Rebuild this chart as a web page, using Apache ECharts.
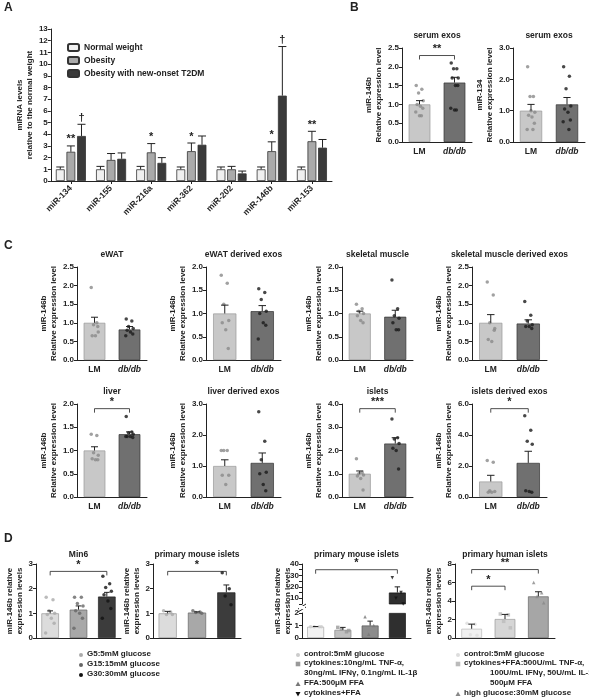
<!DOCTYPE html>
<html><head><meta charset="utf-8">
<script src="https://cdn.jsdelivr.net/npm/echarts@6/dist/echarts.min.js"></script>
<style>html,body{margin:0;background:#fff}#c{width:589px;height:700px}</style>
</head><body><div id="c"></div>
<script>
// ---- Panel A
var aCats = ['miR-134','miR-155','miR-216a','miR-362','miR-202','miR-146b','miR-153'];
var aNormal = [1,1,1,1,1,1,1];
var aNormalErr = [1.2,1.25,1.25,1.2,1.2,1.2,1.2];
var aObese = [2.5,1.8,2.45,2.55,1,2.55,3.4];
var aObeseErr = [3.0,2.35,3.2,3.25,1.25,3.35,4.25];
var aT2dm = [3.85,1.9,1.55,3.1,0.65,7.3,2.85];
var aT2dmErr = [4.85,2.4,2.0,3.85,0.85,11.5,3.55];
var aMarks = [[0,1,'**'],[0,2,'†'],[2,1,'*'],[3,1,'*'],[5,1,'*'],[5,2,'†'],[6,1,'**']];
// ---- Panel B
var bCats = ['LM','db/db'];
var b146Mean = [1.0,1.58], b146Err = [1.1,1.72];
var b146Pts = [[1.5,1.4,1.3,1.1,1.0,0.95,0.9,0.8,0.7,0.7],[2.1,1.95,1.95,1.7,1.7,1.5,1.5,0.9,0.85,0.85]];
var b134Mean = [1.0,1.2], b134Err = [1.2,1.42];
var b134Pts = [[2.4,1.45,1.45,0.95,0.85,0.8,0.6,0.4,0.4,1.0],[2.4,2.1,1.7,1.15,1.05,0.95,0.7,0.65,0.4]];
// ---- Panel C
var cEwatMean=[1.0,0.82], cEwatErr=[1.15,0.9], cEwatPts=[[1.95,1.0,0.95,0.75,0.65,0.65,0.9],[1.1,1.05,0.9,0.85,0.8,0.75,0.7,0.65]];
var cEwatExMean=[1.0,1.05], cEwatExErr=[1.18,1.17], cEwatExPts=[[1.82,1.65,1.2,0.85,0.8,0.65,0.25],[1.53,1.45,1.3,1.05,1.0,0.8,0.75,0.45]];
var cSkmMean=[1.0,0.93], cSkmErr=[1.05,1.07], cSkmPts=[[1.2,1.1,1.05,1.0,0.95,0.85,0.8],[1.72,1.1,0.95,0.9,0.8,0.65,0.65]];
var cSkmExMean=[1.0,0.98], cSkmExErr=[1.22,1.08], cSkmExPts=[[2.1,1.75,1.0,0.85,0.55,0.5,0.8],[1.57,1.2,1.05,0.95,0.9,0.9,0.85]];
var cLivMean=[1.0,1.35], cLivErr=[1.08,1.4], cLivPts=[[1.35,1.32,0.95,0.9,0.82,0.8,0.8],[1.73,1.4,1.38,1.35,1.3,1.3,1.28,1.3]];
var cLivExMean=[1.0,1.1], cLivExErr=[1.2,1.42], cLivExPts=[[1.5,1.5,1.5,0.7,0.7,0.4],[2.75,1.8,1.2,0.8,0.75,0.4,0.2]];
var cIslMean=[1.0,2.3], cIslErr=[1.12,2.55], cIslPts=[[1.65,1.05,1.0,0.95,0.9,0.8,0.3],[3.35,2.55,2.5,2.3,2.1,2.0,1.2]];
var cIslExMean=[1.0,2.2], cIslExErr=[1.4,2.95], cIslExPts=[[2.35,2.25,0.4,0.35,0.3,0.3],[5.25,4.3,3.6,3.4,0.4,0.35,0.3]];
// ---- Panel D
var dCats3 = ['G5','G15','G30'];
var dMinMean=[1.0,1.15,1.68], dMinErr=[1.1,1.3,1.85];
var dMinPts=[[1.65,1.55,1.1,1.0,0.95,0.8,0.6,0.2],[1.65,1.65,1.4,1.3,1.1,1.0,0.8,0.4],[2.5,2.2,2.05,1.9,1.75,1.5,1.2,0.8]];
var dPmiMean=[1.0,1.03,1.85], dPmiErr=[1.08,1.06,2.15];
var dPmiPts=[[1.1,1.05,0.95,0.95],[1.1,1.05,1.03,1.0],[2.65,2.0,1.7,1.35]];
var dBrkCats=['control','cytokines','FFA','cytokines+FFA'];
var dBrkMean=[0.9,0.65,1.0,15], dBrkErr=[0.92,0.85,1.35,20];
var dBrkPts=[[0.9,0.9,0.9,0.9],[0.85,0.5,0.7,0.6],[1.7,1.0,0.3],[28,15,10,5]];
var dHumCats=['control','cytokines+FFA','high glucose'];
var dHumMean=[1.0,2.05,4.5], dHumErr=[1.5,2.55,5.0];
var dHumPts=[[1.6,1.5,0.35,0.3],[2.6,2.5,1.8,1.1],[6.0,4.9,4.5,3.8]];

var FONT = 'Liberation Sans';
var grids=[], xAxes=[], yAxes=[], series=[], graphics=[];
var jit = [-7,5,-2,8,-5,2,7,-8,4,0];

function txt(x,y,t,size,align){
  graphics.push({type:'text',x:x,y:y,style:{text:t,textAlign:align||'center',font:'bold '+(size||8)+'px '+FONT,fill:'#222'}});
}
function errSeries(g, means, tops, off, color){
  series.push({type:'custom',xAxisIndex:g,yAxisIndex:g,z:5,silent:true,
    data:means.map(function(m,i){return [i,m,tops[i]];}).filter(function(d){return d[1]!=null && d[2]!=null;}),
    renderItem:function(p,api){
      var band=api.size([1,0])[0], dx=band*(off||0);
      var a=api.coord([api.value(0),api.value(1)]), b=api.coord([api.value(0),api.value(2)]);
      var x=a[0]+dx, cap=Math.max(2.5,band*0.1);
      var st={stroke:color||'#222',lineWidth:1};
      return {type:'group',children:[
        {type:'line',shape:{x1:x,y1:a[1],x2:x,y2:b[1]},style:st},
        {type:'line',shape:{x1:x-cap,y1:b[1],x2:x+cap,y2:b[1]},style:st}]};
    }});
}
function bracket(g, x1, x2, y, label){
  series.push({type:'custom',xAxisIndex:g,yAxisIndex:g,z:6,silent:true,data:[[x1,x2,y]],
    renderItem:function(p,api){
      var a=api.coord([api.value(0),api.value(2)]), b=api.coord([api.value(1),api.value(2)]);
      var st={stroke:'#222',lineWidth:0.8,fill:null};
      return {type:'group',children:[
        {type:'polyline',shape:{points:[[a[0],a[1]+4],[a[0],a[1]],[b[0],b[1]],[b[0],b[1]+4]]},style:st},
        {type:'text',x:(a[0]+b[0])/2,y:a[1]-1,style:{text:label,textAlign:'center',textVerticalAlign:'bottom',font:'bold 11px '+FONT,fill:'#222'}}]};
    }});
}
function small(o){
  var g=grids.length;
  grids.push({left:o.left,top:o.top,width:o.width,height:o.height});
  xAxes.push({gridIndex:g,type:'category',data:o.cats,show:o.showX!==false,
    axisLine:{lineStyle:{color:'#222'}},axisTick:{show:false},
    axisLabel:{show:o.xLabels!==false,interval:0,margin:5,fontFamily:FONT,fontWeight:'bold',fontSize:8.5,color:'#222',
      fontStyle:'normal'}});
  yAxes.push({gridIndex:g,type:'value',min:o.min||0,max:o.max,interval:o.interval,
    name:o.name,nameLocation:'middle',nameGap:o.nameGap||18,
    nameTextStyle:{fontFamily:FONT,fontWeight:'bold',fontSize:8,color:'#222',lineHeight:10},
    splitLine:{show:false},axisLine:{show:true,lineStyle:{color:'#222'}},axisTick:{show:true,length:3},
    axisLabel:{margin:3,fontFamily:FONT,fontWeight:'bold',fontSize:8,color:'#222',
      formatter:o.fmt||function(v){return v.toFixed(o.dec==null?1:o.dec);}}});
  series.push({type:'bar',xAxisIndex:g,yAxisIndex:g,barWidth:o.barWidth||'62%',silent:true,
    data:o.means.map(function(v,i){return v==null?null:{value:v,itemStyle:{color:o.colors[i],borderColor:o.borders?o.borders[i]:'#444',borderWidth:0.7}};})});
  o.pts.forEach(function(arr,i){
    series.push({type:'scatter',xAxisIndex:g,yAxisIndex:g,z:4,silent:true,
      symbol:o.symbols?o.symbols[i]:'circle',symbolSize:o.symSize||3.5,
      itemStyle:{color:o.ptColors[i]},
      data:arr.map(function(y,k){return {value:[i,y],symbolOffset:[jit[k%jit.length]*o.width/150,0]};})});
  });
  errSeries(g,o.means,o.errs,0);
  (o.brackets||[]).forEach(function(b){bracket(g,b[0],b[1],b[2],b[3]);});
  if(o.title) txt(o.left+o.width/2,o.top-(o.titleGap||17),o.title,8.5);
  // italic db/db label as overlay, LM via axis
  if(o.cats===bCats){
    xAxes[g].axisLabel.formatter=function(v){return v==='db/db'?'':v;};
    series.push({type:'custom',xAxisIndex:g,yAxisIndex:g,silent:true,z:7,data:[[1,0]],
      renderItem:function(p,api){var c=api.coord([1,0]);
        return {type:'text',x:c[0],y:c[1]+5,style:{text:'db/db',textAlign:'center',font:'italic bold 8.5px '+FONT,fill:'#222'}};}});
  }
  return g;
}

// ---- A
(function(){
  var g=grids.length;
  grids.push({left:35,top:29,width:297,height:152});
  xAxes.push({gridIndex:g,type:'category',data:aCats,axisLine:{lineStyle:{color:'#222'}},
    axisTick:{show:true,alignWithLabel:true,length:3},
    axisLabel:{rotate:45,interval:0,margin:6,fontFamily:FONT,fontWeight:'bold',fontSize:8.5,color:'#222'}});
  yAxes.push({gridIndex:g,type:'value',min:0,max:13,interval:1,name:'miRNA levels\nrelative to the normal weight',
    nameLocation:'middle',nameGap:14,nameTextStyle:{fontFamily:FONT,fontWeight:'bold',fontSize:8,color:'#222',lineHeight:10},
    splitLine:{show:false},axisLine:{show:true,lineStyle:{color:'#222'}},axisTick:{show:true,length:3},
    axisLabel:{margin:3,fontFamily:FONT,fontWeight:'bold',fontSize:8,color:'#222'}});
  var groups=[['Normal weight',aNormal,aNormalErr,'#f0f0f0'],['Obesity',aObese,aObeseErr,'#aaaaaa'],['Obesity with new-onset T2DM',aT2dm,aT2dmErr,'#3a3a3a']];
  groups.forEach(function(gr,k){
    series.push({type:'bar',name:gr[0],xAxisIndex:g,yAxisIndex:g,data:gr[1],barWidth:'22%',barGap:'20%',silent:true,
      itemStyle:{color:gr[3],borderColor:'#333',borderWidth:0.8}});
  });
  groups.forEach(function(gr,k){errSeries(g,gr[1],gr[2],(k-1)*0.264);});
  var tops=[aNormalErr,aObeseErr,aT2dmErr];
  series.push({type:'custom',xAxisIndex:g,yAxisIndex:g,z:6,silent:true,
    data:aMarks.map(function(m){return [m[0],tops[m[1]][m[0]],m[1]-1];}),
    renderItem:function(p,api){
      var band=api.size([1,0])[0], c=api.coord([api.value(0),api.value(1)]);
      return {type:'text',x:c[0]+api.value(2)*0.264*band,y:c[1]-1,style:{text:aMarks[p.dataIndex][2],textAlign:'center',textVerticalAlign:'bottom',font:'bold 11px '+FONT,fill:'#222'}};
    }});
})();

var LMc=['#c8c8c8','#707070'], LMb=['#999','#333'], LMp=['#8a8a8a','#1a1a1a'];
// ---- B
small({left:402,top:48,width:70,height:94,title:'serum exos',cats:bCats,max:2.5,interval:0.5,name:'miR-146b\nRelative expression level',
  means:b146Mean,errs:b146Err,pts:b146Pts,colors:LMc,borders:LMb,ptColors:LMp,brackets:[[0,1,2.3,'**']]});
small({left:513,top:48,width:72,height:94,title:'serum exos',cats:bCats,max:3,interval:1,name:'miR-134\nRelative expression level',
  means:b134Mean,errs:b134Err,pts:b134Pts,colors:LMc,borders:LMb,ptColors:LMp});
// ---- C
var cRow=[[cEwatMean,cEwatErr,cEwatPts,'eWAT',2.5,0.5,77,70,null],
  [cEwatExMean,cEwatExErr,cEwatExPts,'eWAT derived exos',2,0.5,206,75,null],
  [cSkmMean,cSkmErr,cSkmPts,'skeletal muscle',2,0.5,342,71,null],
  [cSkmExMean,cSkmExErr,cSkmExPts,'skeletal muscle derived exos',2.5,0.5,472,75,null],
  [cLivMean,cLivErr,cLivPts,'liver',2,0.5,77,70,[0,1,1.9,'*']],
  [cLivExMean,cLivExErr,cLivExPts,'liver derived exos',3,1,206,75,null],
  [cIslMean,cIslErr,cIslPts,'islets',4,1,342,71,[0,1,3.8,'***']],
  [cIslExMean,cIslExErr,cIslExPts,'islets derived exos',6,2,472,75,[0,1,5.7,'*']]];
cRow.forEach(function(r,k){
  small({left:r[6],top:k<4?267:404,width:r[7],height:93,title:r[3],cats:bCats,max:r[4],interval:r[5],
    name:'miR-146b\nRelative expression level',means:r[0],errs:r[1],pts:r[2],colors:LMc,borders:LMb,ptColors:LMp,
    brackets:r[8]?[r[8]]:[]});
});
// ---- D
var dName='miR-146b relative\nexpression levels';
small({left:36,top:564,width:85,height:74,title:'Min6',titleGap:14,cats:dCats3,xLabels:false,max:3,interval:1,dec:0,name:dName,nameGap:10,
  means:dMinMean,errs:dMinErr,pts:dMinPts,colors:['#dcdcdc','#a8a8a8','#3c3c3c'],borders:['#999','#666','#222'],
  ptColors:['#aaa','#666','#111'],brackets:[[0,2,2.7,'*']]});
small({left:153,top:564,width:88,height:74,title:'primary mouse islets',titleGap:14,cats:dCats3,xLabels:false,max:3,interval:1,dec:0,name:dName,nameGap:10,
  means:dPmiMean,errs:dPmiErr,pts:dPmiPts,colors:['#dcdcdc','#a8a8a8','#3c3c3c'],borders:['#999','#666','#222'],
  ptColors:['#aaa','#666','#111'],brackets:[[0,2,2.7,'*']]});
// broken axis panel
var brkColors=['#f2f2f2','#c0c0c0','#8c8c8c','#2f2f2f'], brkSym=['circle','rect','triangle','path://M0,0L10,0L5,9Z'];
var brkPtC=['#ccc','#999','#777','#111'];
small({left:302,top:613,width:109,height:25,cats:dBrkCats,xLabels:false,max:2,interval:1,dec:0,name:'',
  means:dBrkMean.map(function(v){return Math.min(v,2);}),errs:dBrkMean.map(function(v,i){return v>2?null:dBrkErr[i];}),
  pts:dBrkPts.map(function(a){return a.filter(function(y){return y<=2;});}),
  colors:brkColors,borders:['#aaa','#888','#555','#111'],ptColors:brkPtC,symbols:brkSym});
small({left:302,top:564,width:109,height:40,title:'primary mouse islets',titleGap:14,cats:dBrkCats,showX:false,min:5,max:40,interval:5,
  fmt:function(v){return v%10===0?v:'';},name:'',
  means:dBrkMean.map(function(v){return v>2?v:null;}),errs:dBrkErr,
  pts:dBrkPts.map(function(a){return a.filter(function(y){return y>2;});}),
  colors:brkColors,borders:['#aaa','#888','#555','#111'],ptColors:brkPtC,symbols:brkSym,brackets:[[0,3,35,'*']]});
graphics.push({type:'text',x:283,y:601,rotation:Math.PI/2,style:{text:dName,textAlign:'center',textVerticalAlign:'middle',font:'bold 8px '+FONT,fill:'#222',lineHeight:10}});
graphics.push({type:'line',shape:{x1:298,y1:609,x2:306,y2:604},style:{stroke:'#222',lineWidth:1}});
graphics.push({type:'line',shape:{x1:298,y1:612,x2:306,y2:607},style:{stroke:'#222',lineWidth:1}});
graphics.push({type:'rect',shape:{x:299,y:606,width:6,height:3},style:{fill:'#fff'},z:100});
small({left:455,top:564,width:100,height:74,title:'primary human islets',titleGap:14,cats:dHumCats,xLabels:false,max:8,interval:2,dec:0,name:dName,nameGap:10,
  means:dHumMean,errs:dHumErr,pts:dHumPts,colors:['#f0f0f0','#d6d6d6','#a6a6a6'],borders:['#bbb','#999','#666'],
  ptColors:['#ddd','#bbb','#888'],symbols:['circle','rect','triangle'],brackets:[[0,2,7.4,'**'],[0,1,5.6,'*']]});

// legends D
function legItem(x,y,sym,col,t){
  graphics.push({type:sym==='tri'?'polygon':(sym==='rect'?'rect':(sym==='inv'?'polygon':'circle')),
    shape:sym==='tri'?{points:[[x,y-2.5],[x-2.5,y+2],[x+2.5,y+2]]}:sym==='inv'?{points:[[x-2.5,y-2],[x+2.5,y-2],[x,y+2.5]]}:sym==='rect'?{x:x-2.3,y:y-2.3,width:4.6,height:4.6}:{cx:x,cy:y,r:2},
    style:{fill:col}});
  if(t) txt(x+6,y-5,t,8,'left');
}
legItem(81,655,'c','#aaa','G5:5mM glucose');
legItem(81,665,'c','#666','G15:15mM glucose');
legItem(81,675,'c','#111','G30:30mM glucose');
legItem(298,655,'c','#ccc','control:5mM glucose');
legItem(298,664,'rect','#999','cytokines:10ng/mL TNF-\u03b1,');
txt(304,669,'30ng/mL IFN\u03b3, 0.1ng/mL IL-1\u03b2',8,'left');
legItem(298,684,'tri','#777','FFA:500\u03bcM FFA');
legItem(298,694,'inv','#111','cytokines+FFA');
legItem(458,655,'c','#ddd','control:5mM glucose');
legItem(458,664,'rect','#bbb','cytokines+FFA:500U/mL TNF-\u03b1,');
txt(490,669,'100U/mL IFN\u03b3, 50U/mL IL-1\u03b2,',8,'left');
txt(490,679,'500\u03bcM FFA',8,'left');
legItem(458,694,'tri','#888','high glucose:30mM glucose');

// panel letters
txt(4,2,'A',12,'left'); txt(350,2,'B',12,'left'); txt(4,240,'C',12,'left'); txt(4,533,'D',12,'left');

var chart=echarts.init(document.getElementById('c'));
chart.setOption({animation:false,textStyle:{fontFamily:FONT},
  legend:{data:['Normal weight','Obesity','Obesity with new-onset T2DM'],left:62,top:38,orient:'vertical',
    itemWidth:11,itemHeight:7,itemGap:4,textStyle:{fontFamily:FONT,fontWeight:'bold',fontSize:8.5,color:'#222'}},
  grid:grids,xAxis:xAxes,yAxis:yAxes,series:series,graphic:graphics});
</script></body></html>
